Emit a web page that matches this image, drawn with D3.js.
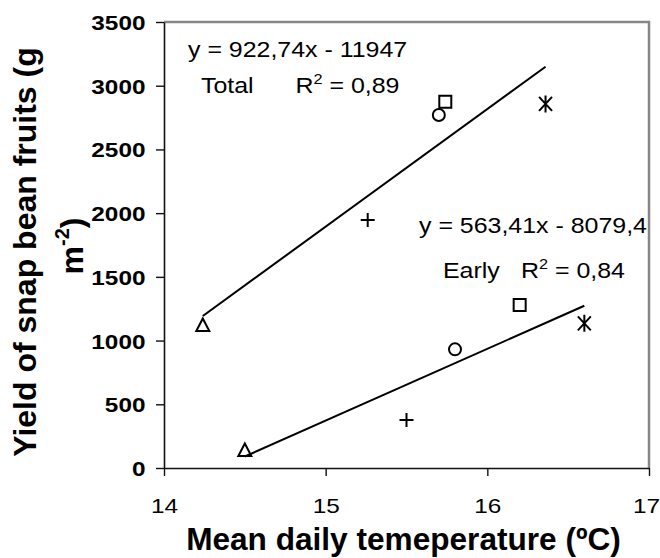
<!DOCTYPE html>
<html>
<head>
<meta charset="utf-8">
<script src="https://cdn.jsdelivr.net/npm/d3@7"></script>
<style>
  html, body { margin: 0; padding: 0; background: #fff; }
  svg { display: block; }
</style>
</head>
<body>
<svg id="chart" width="660" height="558"></svg>
<script>
// ---- data ----
const xTicks = [14, 15, 16, 17];
const yTicks = [0, 500, 1000, 1500, 2000, 2500, 3000, 3500];
const markerShapes = ["triangle", "plus", "circle", "square", "asterisk"];
const totalTemp = [14.24, 15.26, 15.70, 15.74, 16.36];
const totalYield = [1122, 1946, 2770, 2875, 2857];
const earlyTemp = [14.50, 15.50, 15.80, 16.20, 16.60];
const earlyYield = [141, 377, 931, 1279, 1135];
const trendSlopes = [922.74, 563.41];
const trendIntercepts = [-11947, -8079.4];
const totalEqText = "y = 922,74x - 11947";
const earlyEqText = "y = 563,41x - 8079,4";
const totalR2 = "0,89";
const earlyR2 = "0,84";
const xTitle = "Mean daily temeperature (ºC)";
const yTitleLine1 = "Yield of snap bean fruits (g";

// ---- layout ----
const svg = d3.select("#chart");
const pL = 164, pR = 649, pT = 22, pB = 468;
const x = d3.scaleLinear().domain([14, 17]).range([pL, pR]);
const y = d3.scaleLinear().domain([0, 3500]).range([pB, pT]);
const SX = 1.16; // horizontal stretch of regular text in the reference
const FONT = "'Liberation Sans', Arial, sans-serif";

svg.append("rect").attr("width", 660).attr("height", 558).attr("fill", "#fff");

// top & right frame (gray)
svg.append("path")
  .attr("d", `M${pL},${pT}H${pR}V${pB}`)
  .attr("fill", "none").attr("stroke", "#878787").attr("stroke-width", 2.5);

// y axis
const gy = svg.append("g").attr("transform", `translate(${pL},0)`)
  .call(d3.axisLeft(y).tickValues(yTicks).tickSize(8).tickSizeOuter(0).tickFormat(d3.format("d")));
gy.select(".domain").attr("stroke", "#111").attr("stroke-width", 1.6);
gy.selectAll(".tick line").attr("stroke", "#111").attr("stroke-width", 1.4);
gy.selectAll(".tick text")
  .attr("font-family", FONT).attr("font-weight", "bold").attr("font-size", 21)
  .attr("fill", "#000")
  .attr("dy", 0).attr("y", 7.5)
  .attr("x", -18.5 / SX)
  .attr("transform", `scale(${SX},1)`);

// x axis
const gx = svg.append("g").attr("transform", `translate(0,${pB})`)
  .call(d3.axisBottom(x).tickValues(xTicks).tickSize(8).tickSizeOuter(0).tickFormat(d3.format("d")));
gx.select(".domain").attr("stroke", "#111").attr("stroke-width", 1.6);
gx.selectAll(".tick line").attr("stroke", "#111").attr("stroke-width", 1.4);
gx.selectAll(".tick text")
  .attr("font-family", FONT).attr("font-size", 21).attr("fill", "#000")
  .attr("dy", 0).attr("y", 45)
  .attr("x", (d, i, n) => i === n.length - 1 ? -3 / SX : 0)
  .attr("transform", `scale(${SX},1)`);

// trend lines
const series = [
  { temp: totalTemp, yield: totalYield },
  { temp: earlyTemp, yield: earlyYield }
];
series.forEach((s, i) => {
  const [x0, x1] = d3.extent(s.temp);
  const pts = [x0, x1].map(t => [x(t), y(trendSlopes[i] * t + trendIntercepts[i])]);
  svg.append("path")
    .attr("d", d3.line()(pts))
    .attr("fill", "none").attr("stroke", "#000").attr("stroke-width", 2);
});

// markers
function markerPath(shape) {
  switch (shape) {
    case "triangle": return "M0,-6.5L6.5,6L-6.5,6Z";
    case "plus": return "M-7,0H7M0,-7V7";
    case "square": return "M-6,-6H6V6H-6Z";
    case "asterisk": return "M0,-8.5V8.5M-6.5,-7L6.5,7M-6.5,7L6.5,-7";
    default: return null;
  }
}
series.forEach(s => {
  s.temp.forEach((t, j) => {
    const shape = markerShapes[j];
    const cx = x(t), cy = y(s.yield[j]);
    if (shape === "circle") {
      svg.append("circle").attr("cx", cx).attr("cy", cy).attr("r", 6)
        .attr("fill", "none").attr("stroke", "#000").attr("stroke-width", 2);
    } else {
      svg.append("path").attr("d", markerPath(shape))
        .attr("transform", `translate(${cx},${cy})`)
        .attr("fill", "none").attr("stroke", "#000").attr("stroke-width", 2);
    }
  });
});

// annotation helper (regular, stretched text)
function note(px, py, str) {
  return svg.append("text")
    .attr("transform", `translate(${px},${py}) scale(${SX},1)`)
    .attr("font-family", FONT).attr("font-size", 21.5).attr("fill", "#000")
    .text(str);
}
function r2(px, py, val) {
  const t = svg.append("text")
    .attr("transform", `translate(${px},${py}) scale(${SX},1)`)
    .attr("font-family", FONT).attr("font-size", 21.5).attr("fill", "#000");
  t.append("tspan").text("R");
  t.append("tspan").attr("font-size", 14).attr("dy", -9).text("2");
  t.append("tspan").attr("dy", 9).text(" = " + val);
}
note(188, 57, totalEqText);
note(201, 93, "Total");
r2(295.5, 93, totalR2);
note(419, 233, earlyEqText);
note(443, 278, "Early");
r2(521, 278, earlyR2);

// axis titles
svg.append("text")
  .attr("x", 403.5).attr("y", 550)
  .attr("text-anchor", "middle")
  .attr("font-family", FONT).attr("font-weight", "bold").attr("font-size", 31.6)
  .attr("fill", "#000").text(xTitle);

const yt = svg.append("g").attr("transform", "rotate(-90)");
yt.append("text")
  .attr("x", -252).attr("y", 36)
  .attr("text-anchor", "middle")
  .attr("font-family", FONT).attr("font-weight", "bold").attr("font-size", 32)
  .attr("fill", "#000").text(yTitleLine1);
const l2 = yt.append("text")
  .attr("x", -246).attr("y", 83)
  .attr("text-anchor", "middle")
  .attr("font-family", FONT).attr("font-weight", "bold").attr("font-size", 32)
  .attr("fill", "#000");
l2.append("tspan").text("m");
l2.append("tspan").attr("font-size", 20).attr("dy", -14).text("-2");
l2.append("tspan").attr("dy", 14).text(")");
</script>
</body>
</html>
